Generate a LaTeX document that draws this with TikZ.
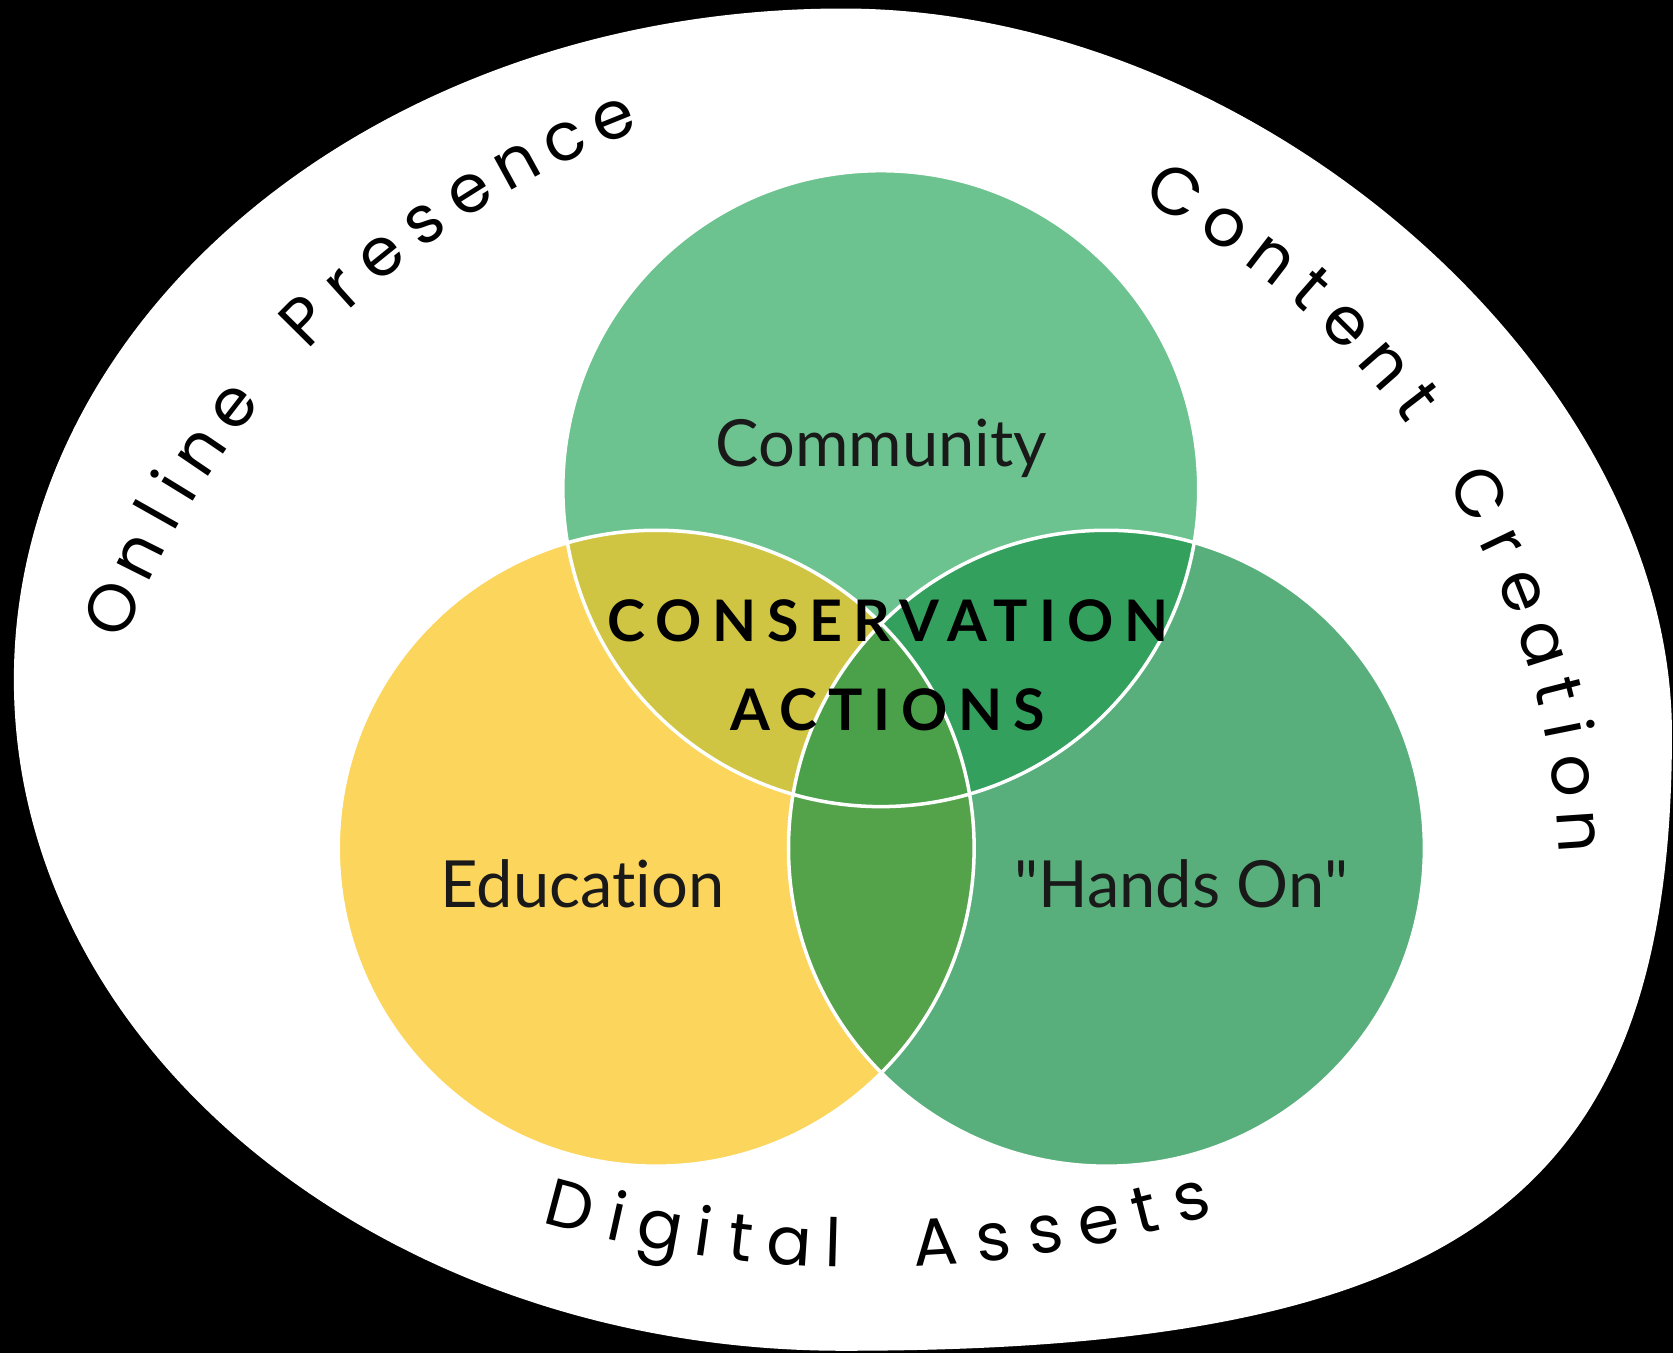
\documentclass[tikz,border=0pt]{standalone}
\usepackage{fontspec}
\setmainfont{Lato}
\newfontfamily\tagfont{Lato}[Ligatures=NoCommon]
\newfontfamily\arcfont{Poppins}
\usetikzlibrary{calc}

\definecolor{commgreen}{HTML}{6DC38F}
\definecolor{eduyellow}{HTML}{FCD55C}
\definecolor{handsgreen}{HTML}{59AF7B}
\definecolor{mixolive}{HTML}{CFC543}
\definecolor{mixdeep}{HTML}{34A05E}
\definecolor{mixlens}{HTML}{54A34B}
\definecolor{mixcore}{HTML}{4BA04A}

\begin{document}
\begin{tikzpicture}[x=0.1067mm, y=0.1067mm,
    arcletter/.style={font=\arcfont\fontsize{19}{19}\selectfont, anchor=base, inner sep=0pt},
    tag/.style={font=\tagfont\fontsize{18.5}{20}\selectfont, text=black!90},
    coretext/.style={font=\tagfont\fontsize{16.3}{18}\selectfont\bfseries\addfontfeatures{LetterSpace=19}, text=black},
    ringline/.style={draw=white, line width=1pt}]
    \useasboundingbox (0,0) rectangle (1568,1268);
    \clip (0,0) rectangle (1568,1268);
    \fill[black] (0,0) rectangle (1568,1268);
    % outer white field
    \fill[white] (790,2) .. controls (1373,2) and (1567,147) .. (1567,580)
        .. controls (1567,920) and (1178,1260) .. (790,1260)
        arc[start angle=90, end angle=270, x radius=777, y radius=629] -- cycle;
    % circle centres and arc centres
    \coordinate (top) at (825.5,810);
    \coordinate (lft) at (615,473);
    \coordinate (rgt) at (1037,473);
    \coordinate (op) at (895,364);
    \coordinate (cc) at (740,438);
    \coordinate (da) at (811,1176);
    % circles and overlaps
    \fill[handsgreen] (rgt) circle[radius=298];
    \fill[eduyellow] (lft) circle[radius=298];
    \fill[commgreen] (top) circle[radius=298];
    \begin{scope}
        \clip (lft) circle[radius=298];
        \fill[mixlens] (rgt) circle[radius=298];
    \end{scope}
    \begin{scope}
        \clip (top) circle[radius=298];
        \fill[mixolive] (lft) circle[radius=298];
        \fill[mixdeep] (rgt) circle[radius=298];
        \clip (lft) circle[radius=298];
        \fill[mixcore] (rgt) circle[radius=298];
    \end{scope}
    \draw[ringline] (top) circle[radius=298];
    \draw[ringline] (lft) circle[radius=298];
    \draw[ringline] (rgt) circle[radius=298];
    % labels
    \node[tag] (comm) at (826,848) {Community};
    \node[tag] (edu) at (546,440) {Education};
    \node[tag] (hands) at (1107,440) {"Hands On"};
    \node[coretext] (cons) at (832,686) {CONSERVATION};
    \node[coretext] (act) at (832,603) {ACTIONS};
    % curved words
    \foreach \ch/\a [count=\k] in {O/157.1,n/153.4,l/150.6,i/148.5,n/145.8,e/142.3,
        P/135.3,r/132.1,e/129.0,s/125.6,e/122.2,n/118.7,c/115.4,e/112.0}
        \node[arcletter, rotate=\a-90] (op\k) at ($(op)+(\a:836)$) {\ch};
    \foreach \ch/\a [count=\k] in {C/60.9,o/56.5,n/52.4,t/48.8,e/45.2,n/41.2,t/37.6,
        C/29.6,r/25.6,e/21.9,a/17.8,t/14.2,i/11.4,o/8.0,n/3.9}
        \node[arcletter, rotate=\a-90] (cc\k) at ($(cc)+(\a:722)$) {\ch};
    \foreach \ch/\a [count=\k] in {D/255.1,i/257.5,g/259.7,i/261.9,t/263.8,a/266.2,l/268.4,
        A/273.5,s/276.4,s/279.0,e/281.7,t/284.1,s/286.5}
        \node[arcletter, rotate=\a+90] (da\k) at ($(da)+(\a:1096)$) {\ch};
\end{tikzpicture}
\end{document}
